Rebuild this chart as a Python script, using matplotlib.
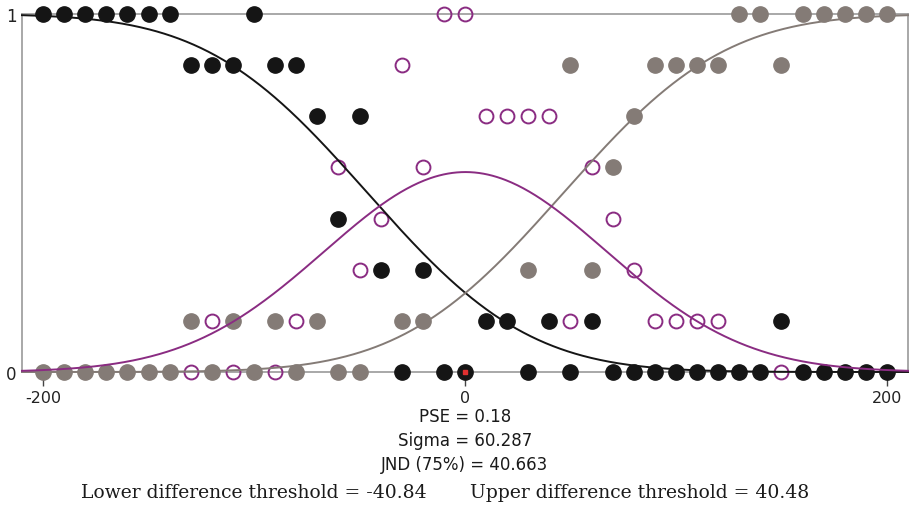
import numpy as np
import matplotlib
matplotlib.use("Agg")
import matplotlib.pyplot as plt
from math import erf, sqrt

N = np.nan
# stimulus levels
x_levels = list(range(-200, 201, 10))
# counts out of 7 trials (NaN = not shown)
black_counts = [7, 7, 7, 7, 7, 7, 7, 6, 6, 6, 7, 6, 6, 5, 3, 5, 2, 0, 2, 0, 0,
                1, 1, 0, 1, 0, 1, 0, 0, 0, 0, 0, 0, 0, 0, 1, 0, 0, 0, 0, 0]
gray_counts = [0, 0, 0, 0, 0, 0, 0, 1, 0, 1, 0, 1, 0, 1, 0, 0, N, 1, 1, N, N,
               N, N, 2, N, 6, 2, 4, 5, 6, 6, 6, 6, 7, 7, 6, 7, 7, 7, 7, 7]
purple_counts = [N, N, N, N, N, N, N, 0, 1, 0, N, 0, 1, N, 4, 2, 3, 6, 4, 7, 7,
                 5, 5, 5, 5, 1, 4, 3, 2, 1, 1, 1, 1, N, N, 0, N, N, N, N, N]
n_trials = 7

mu_low = -46.2
mu_high = 46.6
sigma = 60.287

title_lines = ["PSE = 0.18", "Sigma = 60.287", "JND (75%) = 40.663"]
lower_text = "Lower difference threshold = -40.84"
upper_text = "Upper difference threshold = 40.48"
x_ticks = [-200, 0, 200]

BLACK = "#151515"
GRAY = "#847b76"
PURPLE = "#8a2c82"
AXC = "#9a9a9a"

W, H = 911, 506
fig = plt.figure(figsize=(W / 100, H / 100), dpi=100)
L, R, T, B = 22, 908, 15, 373
ax = fig.add_axes([L / W, 1 - B / H, (R - L) / W, (B - T) / H])
ax.set_xlim(-210, 210)
ax.set_ylim(0, 1)

for s in ax.spines.values():
    s.set_color(AXC)
    s.set_linewidth(1.2)

xs = np.array(x_levels, dtype=float)
pb = np.array(black_counts, dtype=float) / n_trials
pg = np.array(gray_counts, dtype=float) / n_trials
pp = np.array(purple_counts, dtype=float) / n_trials

ms = 11.0
ax.plot(xs, pg, 'o', ms=ms, color=GRAY, mec=GRAY, ls='none', clip_on=False, zorder=3)
ax.plot(xs, pb, 'o', ms=ms, color=BLACK, mec=BLACK, ls='none', clip_on=False, zorder=3)
ax.plot(xs, pp, 'o', ms=ms - 1, mfc='none', mec=PURPLE, mew=1.4, ls='none', clip_on=False, zorder=3)
ax.plot([0], [0], 's', ms=2.5, color='#e03030', clip_on=False, zorder=4)

Phi = np.vectorize(lambda z: 0.5 * (1 + erf(z / sqrt(2))))
xc = np.linspace(-210, 210, 600)
yb = 1 - Phi((xc - mu_low) / sigma)
yg = Phi((xc - mu_high) / sigma)
yp = 1 - yb - yg
ax.plot(xc, yb, color=BLACK, lw=1.4, zorder=5, clip_on=False)
ax.plot(xc, yg, color=GRAY, lw=1.4, zorder=5, clip_on=False)
ax.plot(xc, yp, color=PURPLE, lw=1.4, zorder=5, clip_on=False)

ax.set_xticks(x_ticks)
ax.set_xticklabels([str(t) for t in x_ticks])
ax.tick_params(axis='x', direction='out', length=10, width=1, color='#444444',
               labelsize=11.5, pad=3, labelcolor='#222222')
ax.set_yticks([0, 1])
ax.set_yticklabels(['0', '1'])
ax.tick_params(axis='y', length=0, labelsize=12, pad=4, labelcolor='#222222')
for lab in ax.get_xticklabels() + ax.get_yticklabels():
    lab.set_family('DejaVu Sans')

for i, t in enumerate(title_lines):
    fig.text(465 / W, 1 - (417 + 24 * i) / H, t, ha='center', va='center',
             fontsize=12, family='DejaVu Sans', color='#1a1a1a')
fig.text(254 / W, 1 - 493 / H, lower_text, ha='center', va='center',
         fontsize=13.5, family='DejaVu Serif', color='#1a1a1a')
fig.text(640 / W, 1 - 493 / H, upper_text, ha='center', va='center',
         fontsize=13.5, family='DejaVu Serif', color='#1a1a1a')

fig.savefig("out.png", dpi=100)
